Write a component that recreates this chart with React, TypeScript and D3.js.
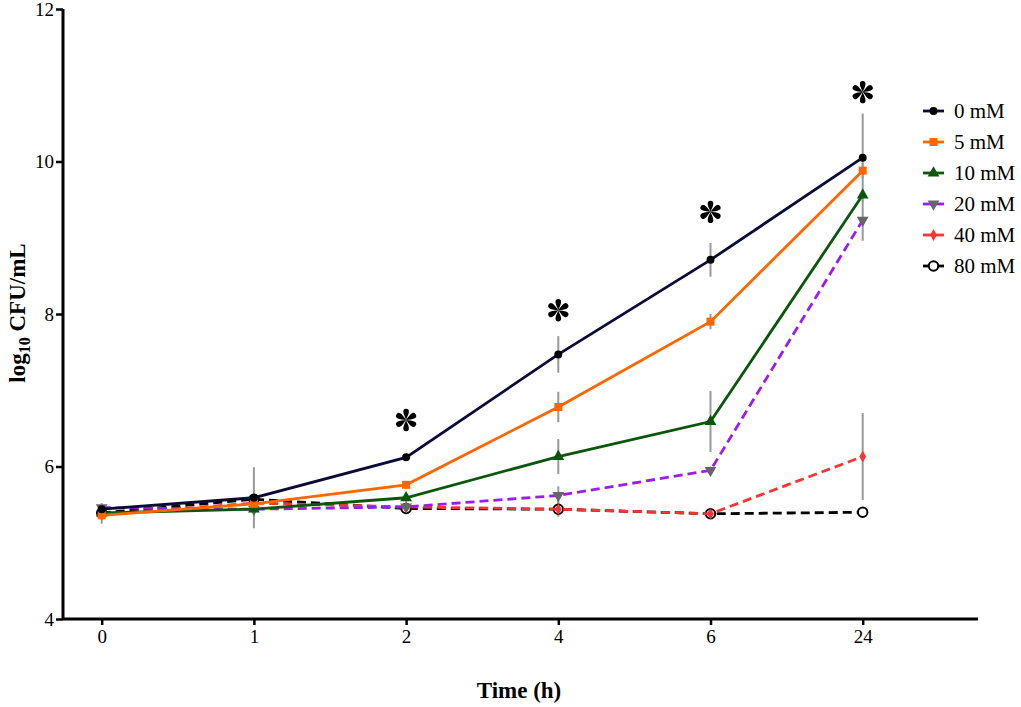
import React, { useEffect, useRef } from "react";
import * as d3 from "d3";

const times = ["0", "1", "2", "4", "6", "24"];
const seriesNames = ["0 mM", "5 mM", "10 mM", "20 mM", "40 mM", "80 mM"];

const mean0 = [5.44, 5.59, 6.12, 7.47, 8.71, 10.05];
const mean5 = [5.36, 5.51, 5.76, 6.78, 7.9, 9.88];
const mean10 = [5.39, 5.44, 5.59, 6.13, 6.59, 9.56];
const mean20 = [5.46, 5.44, 5.47, 5.62, 5.95, 9.23];
const mean40 = [5.37, 5.52, 5.47, 5.44, 5.38, 6.13];
const mean80 = [5.39, 5.57, 5.45, 5.44, 5.38, 5.4];

const err0 = [0.05, 0.4, 0.03, 0.24, 0.22, 0.58];
const err5 = [0.05, 0.05, 0.04, 0.2, 0.1, 0.1];
const err10 = [0.04, 0.1, 0.05, 0.23, 0.4, 0.05];
const err20 = [0.06, 0.05, 0.04, 0.12, 0.05, 0.27];
const err40 = [0.12, 0.05, 0.04, 0.05, 0.04, 0.57];
const err80 = [0.05, 0.05, 0.04, 0.1, 0.04, 0.03];

const sigTimes = ["2", "4", "6", "24"];
const sigLevels = [6.61, 8.05, 9.34, 10.91];

const yTicks = [4, 6, 8, 10, 12];

const SERIF = "'Liberation Serif', 'Times New Roman', Times, serif";

export default function App() {
  const ref = useRef<SVGSVGElement>(null);

  useEffect(() => {
    const svg = d3.select(ref.current);
    svg.selectAll("*").remove();

    const left = 63, right = 978, top = 9, bottom = 619;
    const x = d3.scalePoint<string>().domain(times).range([101.7, 862.7]);
    const y = d3.scaleLinear().domain([4, 12]).range([bottom, top]);

    const means = [mean0, mean5, mean10, mean20, mean40, mean80];
    const errs = [err0, err5, err10, err20, err40, err80];
    const lineColors = ["#0b0b35", "#ff6600", "#0b560b", "#9a1cf0", "#fa3434", "#000000"];
    const markerFill = ["#000000", "#ff6600", "#0b560b", "#666666", "#fa3434", "#ffffff"];
    const markerStroke = ["#000000", "#ff6600", "#0b560b", "#666666", "#fa3434", "#000000"];
    const dashed = [false, false, false, true, true, true];

    const triDown = {
      draw(ctx: any, size: number) {
        const s = Math.sqrt(size / (Math.sqrt(3) / 4));
        const h = (s * Math.sqrt(3)) / 2;
        ctx.moveTo(-s / 2, -h / 3);
        ctx.lineTo(s / 2, -h / 3);
        ctx.lineTo(0, (2 * h) / 3);
        ctx.closePath();
      },
    };
    const triUp = {
      draw(ctx: any, size: number) {
        const s = Math.sqrt(size / (Math.sqrt(3) / 4));
        const h = (s * Math.sqrt(3)) / 2;
        ctx.moveTo(-s / 2, h / 3);
        ctx.lineTo(s / 2, h / 3);
        ctx.lineTo(0, (-2 * h) / 3);
        ctx.closePath();
      },
    };
    const symTypes: any[] = [d3.symbolCircle, d3.symbolSquare, triUp, triDown, d3.symbolDiamond, d3.symbolCircle];
    const symSizes = [50, 64, 60, 60, 40, 70];
    const symStrokeW = [0, 0, 0, 0, 0, 2];

    // axes
    const yAxis = svg
      .append("g")
      .attr("transform", `translate(${left},0)`)
      .call(d3.axisLeft(y).tickValues(yTicks).tickSize(7).tickPadding(2).tickFormat(d3.format("d")) as any);
    yAxis.attr("font-family", null).attr("font-size", null);
    yAxis.select(".domain").attr("stroke", "#000").attr("stroke-width", 3).attr("d", `M0,${top}V${bottom}`);
    yAxis.selectAll(".tick line").attr("stroke", "#000").attr("stroke-width", 2.5);
    yAxis.selectAll(".tick text").style("font-family", SERIF).style("font-size", "19px").attr("fill", "#000");

    const xAxis = svg
      .append("g")
      .attr("transform", `translate(0,${bottom})`)
      .call(d3.axisBottom(x).tickSize(6).tickPadding(5) as any);
    xAxis.attr("font-family", null).attr("font-size", null);
    xAxis.select(".domain").attr("stroke", "#000").attr("stroke-width", 3).attr("d", `M${left},0H${right}`);
    xAxis.selectAll(".tick line").attr("stroke", "#000").attr("stroke-width", 2.5);
    xAxis.selectAll(".tick text").style("font-family", SERIF).style("font-size", "19px").attr("fill", "#000");

    // error bars
    const eg = svg.append("g");
    means.forEach((m, si) => {
      m.forEach((v, i) => {
        const e = errs[si][i];
        eg.append("line")
          .attr("x1", x(times[i])!)
          .attr("x2", x(times[i])!)
          .attr("y1", y(v + e))
          .attr("y2", y(v - e))
          .attr("stroke", "#999999")
          .attr("stroke-width", 2);
      });
    });

    // lines and markers, last series first
    const line = d3
      .line<number>()
      .x((_, i) => x(times[i])!)
      .y((d) => y(d));
    for (let si = means.length - 1; si >= 0; si--) {
      svg
        .append("path")
        .datum(means[si])
        .attr("d", line)
        .attr("fill", "none")
        .attr("stroke", lineColors[si])
        .attr("stroke-width", 2.8)
        .attr("stroke-dasharray", dashed[si] ? "9,5" : null);
      const sym = d3.symbol().type(symTypes[si]).size(symSizes[si]);
      svg
        .append("g")
        .selectAll("path")
        .data(means[si])
        .join("path")
        .attr("transform", (d, i) => `translate(${x(times[i])},${y(d)})`)
        .attr("d", sym() as string)
        .attr("fill", markerFill[si])
        .attr("stroke", markerStroke[si])
        .attr("stroke-width", symStrokeW[si]);
    }

    // significance asterisks
    const petal = "M0,0 C2.8,-0.9 5.8,-2.9 8.4,-2.8 A2.8,2.8 0 0 1 8.4,2.8 C5.8,2.9 2.8,0.9 0,0 Z";
    sigTimes.forEach((t, k) => {
      const g = svg.append("g").attr("transform", `translate(${x(t)},${y(sigLevels[k])})`);
      for (let a = 0; a < 6; a++) {
        g.append("path").attr("d", petal).attr("fill", "#000").attr("transform", `rotate(${a * 60 + 30})`);
      }
    });

    // legend
    const lg = svg.append("g");
    seriesNames.forEach((name, si) => {
      const cy = 111 + si * 31;
      lg.append("line")
        .attr("x1", 923)
        .attr("x2", 944)
        .attr("y1", cy)
        .attr("y2", cy)
        .attr("stroke", lineColors[si])
        .attr("stroke-width", 2.8);
      lg.append("path")
        .attr("transform", `translate(933.5,${cy})`)
        .attr("d", d3.symbol().type(symTypes[si]).size(symSizes[si])() as string)
        .attr("fill", markerFill[si])
        .attr("stroke", markerStroke[si])
        .attr("stroke-width", symStrokeW[si]);
      lg.append("text")
        .attr("x", 954)
        .attr("y", cy)
        .attr("dy", "0.35em")
        .style("font-family", SERIF)
        .style("font-size", "21px")
        .attr("fill", "#000")
        .text(name);
    });

    // axis titles
    const yl = svg
      .append("text")
      .attr("transform", `translate(25,313) rotate(-90)`)
      .attr("text-anchor", "middle")
      .style("font-family", SERIF)
      .style("font-weight", "bold")
      .style("font-size", "23px")
      .attr("fill", "#000");
    yl.append("tspan").text("log");
    yl.append("tspan").style("font-size", "16px").attr("dy", 5).text("10");
    yl.append("tspan").attr("dy", -5).text(" CFU/mL");

    svg
      .append("text")
      .attr("x", 519)
      .attr("y", 698)
      .attr("text-anchor", "middle")
      .style("font-family", SERIF)
      .style("font-weight", "bold")
      .style("font-size", "23px")
      .attr("fill", "#000")
      .text("Time (h)");
  }, []);

  return (
    <svg
      ref={ref}
      width={1021}
      height={707}
      style={{ position: "absolute", left: 0, top: 0, background: "#fff" }}
    />
  );
}
